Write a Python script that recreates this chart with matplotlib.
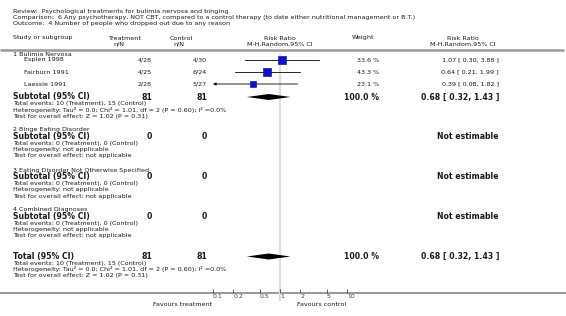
import matplotlib
matplotlib.use("Agg")
import matplotlib.pyplot as plt
import numpy as np

# ---------------- data ----------------
title_lines = [
    "Review:  Psychological treatments for bulimia nervosa and binging",
    "Comparison:  6 Any psychotherapy, NOT CBT, compared to a control therapy (to date either nutritional management or B.T.)",
    "Outcome:  4 Number of people who dropped out due to any reason",
]
studies = ["Esplen 1998", "Fairburn 1991", "Laessle 1991"]
treat_nN = ["4/28", "4/25", "2/28"]
ctrl_nN = ["4/30", "6/24", "5/27"]
rr = [1.07, 0.64, 0.39]
rr_lo = [0.30, 0.21, 0.08]
rr_hi = [3.88, 1.99, 1.82]
weights = [33.6, 43.3, 23.1]

subgroups = ["1 Bulimia Nervosa", "2 Binge Eating Disorder",
             "3 Eating Disorder Not Otherwise Specified", "4 Combined Diagnoses"]
sub_treat_N = [81, 0, 0, 0]
sub_ctrl_N = [81, 0, 0, 0]
sub_est = [0.68, None, None, None]
sub_lo = [0.32, None, None, None]
sub_hi = [1.43, None, None, None]
sub_weight = ["100.0 %", "", "", ""]
sub_events = ["Total events: 10 (Treatment), 15 (Control)",
              "Total events: 0 (Treatment), 0 (Control)",
              "Total events: 0 (Treatment), 0 (Control)",
              "Total events: 0 (Treatment), 0 (Control)"]
sub_het = ["Heterogeneity: Tau² = 0.0; Chi² = 1.01, df = 2 (P = 0.60); I² =0.0%",
           "Heterogeneity: not applicable",
           "Heterogeneity: not applicable",
           "Heterogeneity: not applicable"]
sub_test = ["Test for overall effect: Z = 1.02 (P = 0.31)",
            "Test for overall effect: not applicable",
            "Test for overall effect: not applicable",
            "Test for overall effect: not applicable"]

total_treat_N = 81
total_ctrl_N = 81
total_est, total_lo, total_hi = 0.68, 0.32, 1.43
total_events = "Total events: 10 (Treatment), 15 (Control)"
total_het = "Heterogeneity: Tau² = 0.0; Chi² = 1.01, df = 2 (P = 0.60); I² =0.0%"
total_test = "Test for overall effect: Z = 1.02 (P = 0.31)"

xticks = [0.1, 0.2, 0.5, 1, 2, 5, 10]
xticklabels = ["0.1", "0.2", "0.5", "1", "2", "5", "10"]

# ---------------- layout ----------------
W, H = 566, 316
fig = plt.figure(figsize=(W / 100, H / 100), dpi=100)
bg = fig.add_axes([0, 0, 1, 1])
bg.set_xlim(0, W)
bg.set_ylim(H, 0)
bg.axis("off")

TXT = "#1a1a1a"
fs_s = 4.55
fs_b = 5.6

def t(x, y, s, ha="left", fs=fs_s, bold=False, color=TXT):
    bg.text(x, y, s, ha=ha, va="center", fontsize=fs,
            fontweight="bold" if bold else "normal", color=color,
            family="DejaVu Sans")

for i, line in enumerate(title_lines):
    t(13, [11.5, 17.5, 24][i], line, fs=4.6)

# column headers
t(13, 38, "Study or subgroup")
t(124, 38, "Treatment", ha="center")
t(124, 44, "n/N", ha="right")
t(181, 38, "Control", ha="center")
t(184, 44, "n/N", ha="right")
t(280, 38, "Risk Ratio", ha="center")
t(280, 44, "M-H,Random,95% CI", ha="center")
t(363, 38, "Weight", ha="center")
t(463, 38, "Risk Ratio", ha="center")
t(463, 44, "M-H,Random,95% CI", ha="center")
bg.plot([0, 564], [49.5, 49.5], color="#999999", lw=1.8, solid_capstyle="butt")

# forest axes
FX0, FX1 = 213, 347
FY0, FY1 = 52, 293
ax = fig.add_axes([FX0 / W, 1 - FY1 / H, (FX1 - FX0) / W, (FY1 - FY0) / H])
ax.set_xscale("log")
ax.set_xlim(0.1, 10)
ax.set_ylim(FY1, FY0)
ax.patch.set_alpha(0)
for sp in ax.spines.values():
    sp.set_visible(False)
ax.set_yticks([])
ax.set_xticks(xticks)
ax.set_xticklabels(xticklabels)
ax.xaxis.set_minor_locator(matplotlib.ticker.NullLocator())
ax.tick_params(axis="x", direction="in", length=3, width=0.6, labelsize=4.5,
               colors="#444444", pad=0.8)
for lab in ax.get_xticklabels():
    lab.set_horizontalalignment("left")

ax.plot([1, 1], [FY0 + 3, 300], color="#dddddd", lw=1.6, clip_on=False, zorder=0)

# bottom axis line full width
bg.plot([0, 566], [293, 293], color="#999999", lw=1.4)
t(212, 304.5, "Favours treatment", ha="right")
t(297, 304.5, "Favours control", ha="left")

BLUE = "#1010c8"

# subgroup 1
t(13, 54.5, subgroups[0])
ys = [60, 72, 84]
for i in range(3):
    y = ys[i]
    t(24, y, studies[i])
    t(152, y, treat_nN[i], ha="right")
    t(207, y, ctrl_nN[i], ha="right")
    t(379, y, "%.1f %%" % weights[i], ha="right")
    t(499, y, "%.2f [ %.2f, %.2f ]" % (rr[i], rr_lo[i], rr_hi[i]), ha="right")
    lo = rr_lo[i]
    if lo < 0.1:
        ax.annotate("", xy=(0.1, y), xytext=(rr_hi[i], y),
                    arrowprops=dict(arrowstyle="-|>", lw=0.6, color="black",
                                    mutation_scale=4, shrinkA=0, shrinkB=0),
                    annotation_clip=False)
    else:
        ax.plot([lo, rr_hi[i]], [y, y], color="black", lw=0.6)
    ax.plot([rr[i]], [y], marker="s", markersize=0.88 * np.sqrt(weights[i]),
            color=BLUE, markeredgecolor="#000080", markeredgewidth=0.4, zorder=3)

def diamond(y, est, lo, hi):
    ax.fill([lo, est, hi, est], [y, y - 3, y, y + 3], color="black", lw=0)

sub_rows = [
    (None, 97, 103.5, 110, 116.5),
    (130, 136.5, 143, 149.5, 156),
    (170.5, 176.5, 183, 189.5, 196.5),
    (210, 216.5, 223, 229.5, 236),
]
for g in range(4):
    hy, sy, ey, hety, ty = sub_rows[g]
    if hy is not None:
        t(13, hy, subgroups[g])
    t(13, sy, "Subtotal (95% CI)", fs=fs_b, bold=True)
    t(152, sy, str(sub_treat_N[g]), ha="right", fs=fs_b, bold=True)
    t(207, sy, str(sub_ctrl_N[g]), ha="right", fs=fs_b, bold=True)
    if sub_est[g] is not None:
        t(379, sy, sub_weight[g], ha="right", fs=fs_b, bold=True)
        t(499, sy, "%.2f [ %.2f, %.2f ]" % (sub_est[g], sub_lo[g], sub_hi[g]),
          ha="right", fs=fs_b, bold=True)
        diamond(sy, sub_est[g], sub_lo[g], sub_hi[g])
    else:
        t(499, sy, "Not estimable", ha="right", fs=fs_b, bold=True)
    t(13, ey, sub_events[g])
    t(13, hety, sub_het[g])
    t(13, ty, sub_test[g])

# total
ty0 = 256.5
t(13, ty0, "Total (95% CI)", fs=fs_b, bold=True)
t(152, ty0, str(total_treat_N), ha="right", fs=fs_b, bold=True)
t(207, ty0, str(total_ctrl_N), ha="right", fs=fs_b, bold=True)
t(379, ty0, "100.0 %", ha="right", fs=fs_b, bold=True)
t(499, ty0, "%.2f [ %.2f, %.2f ]" % (total_est, total_lo, total_hi), ha="right",
  fs=fs_b, bold=True)
diamond(ty0, total_est, total_lo, total_hi)
t(13, 263, total_events)
t(13, 269.5, total_het)
t(13, 276, total_test)

fig.savefig("out.png", dpi=100)
